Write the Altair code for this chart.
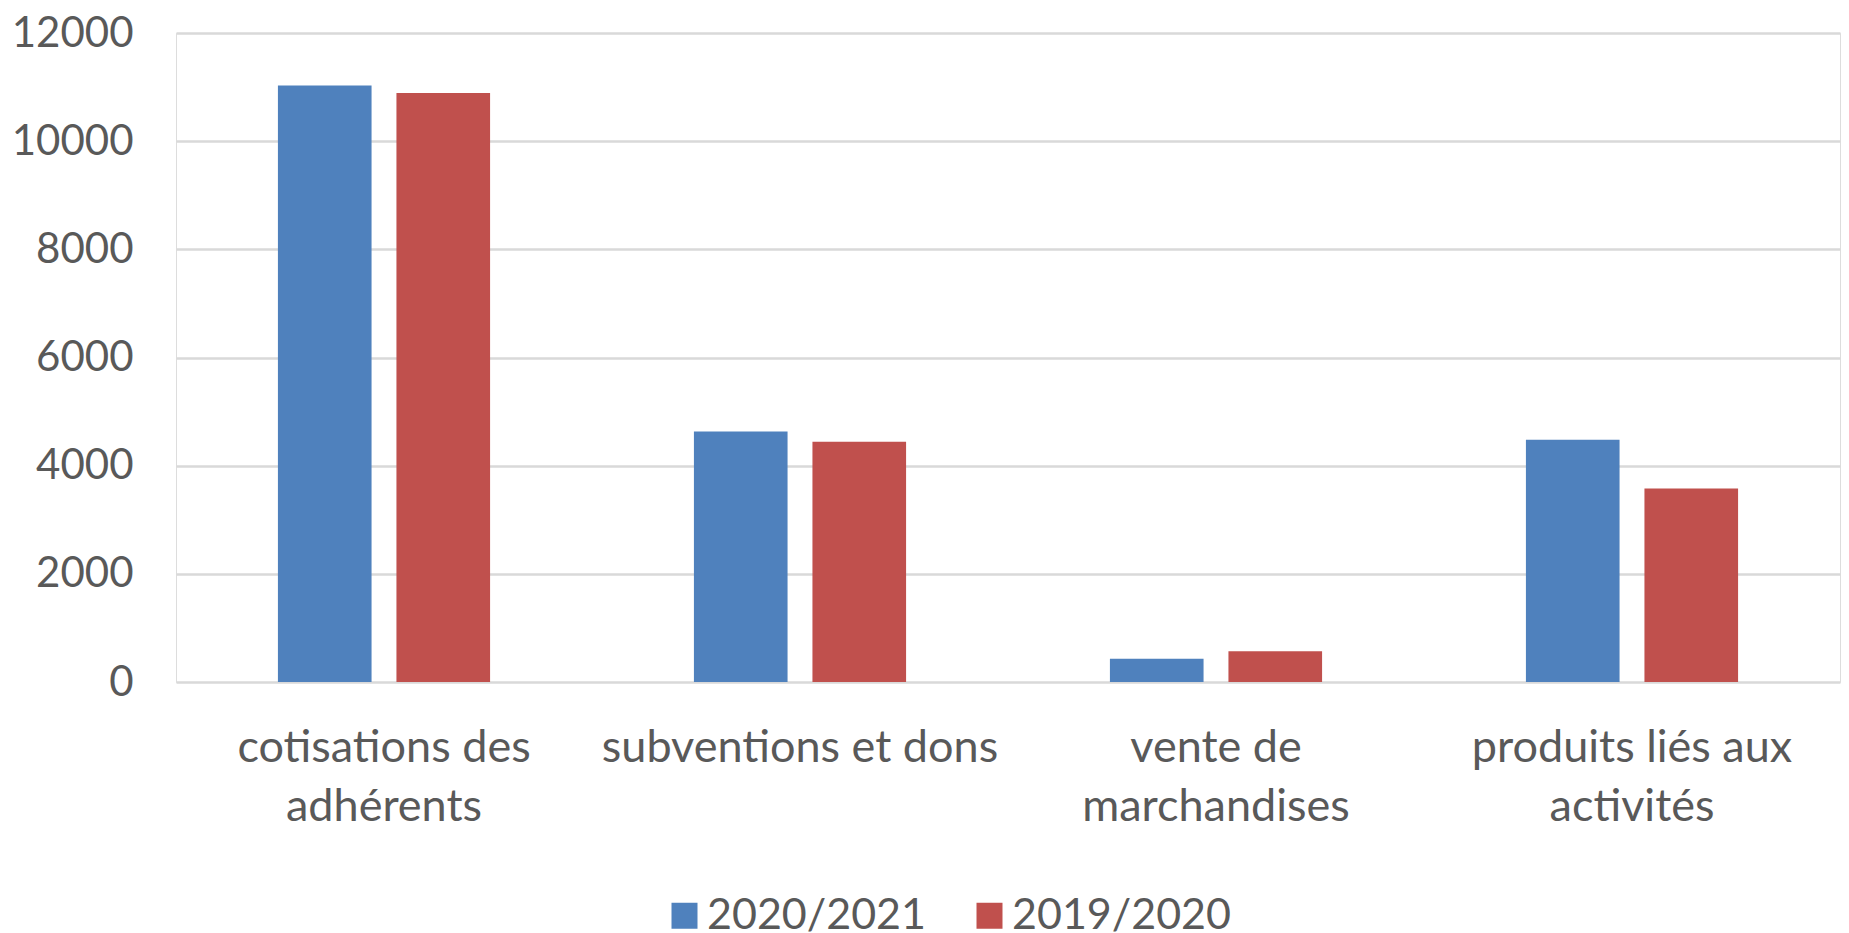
import altair as alt
import pandas as pd

categories = ["cotisations des\nadhérents", "subventions et dons", "vente de\nmarchandises", "produits liés aux\nactivités"]
seasons = ["2020/2021", "2019/2020"]
values_2020_2021 = [11030, 4630, 430, 4480]
values_2019_2020 = [10890, 4440, 570, 3580]
colors = ["#4F81BD", "#C0504D"]
y_ticks = [0, 2000, 4000, 6000, 8000, 10000, 12000]

rows = []
for c, v1, v2 in zip(categories, values_2020_2021, values_2019_2020):
    rows.append({"category": c, "season": seasons[0], "value": v1})
    rows.append({"category": c, "season": seasons[1], "value": v2})
df = pd.DataFrame(rows)

FONT = "Lato"
TEXT = "#595959"

chart = alt.Chart(df).mark_bar().encode(
    x=alt.X(
        "category:N", sort=categories, title=None,
        scale=alt.Scale(paddingInner=0.49, paddingOuter=0.245),
        axis=alt.Axis(
            labelExpr="split(datum.value, '\\n')", labelAngle=0,
            labelFontSize=45, labelFont=FONT, labelColor=TEXT,
            labelLineHeight=59, labelPadding=43, ticks=False, domain=False,
            grid=False, labelLimit=0,
        ),
    ),
    xOffset=alt.XOffset("season:N", sort=seasons,
                        scale=alt.Scale(paddingInner=0.21, paddingOuter=0)),
    y=alt.Y(
        "value:Q", title=None,
        scale=alt.Scale(domain=[0, 12000], nice=False),
        axis=alt.Axis(
            values=y_ticks, format="d", labelFontSize=42, labelFont=FONT,
            labelColor=TEXT, labelPadding=43, ticks=False, domain=False,
            gridColor="#D9D9D9", gridWidth=2.5,
        ),
    ),
    color=alt.Color(
        "season:N", sort=seasons,
        scale=alt.Scale(domain=seasons, range=colors),
        legend=alt.Legend(
            orient="none", legendX=487, legendY=861, direction="horizontal",
            title=None, symbolType="square", symbolSize=676,
            symbolStrokeWidth=0, symbolOpacity=1, labelFontSize=43,
            labelFont=FONT, labelColor=TEXT, labelOffset=1, labelLimit=0,
            columnPadding=42, padding=0,
        ),
    ),
).properties(
    width=1664, height=649,
    autosize=alt.AutoSizeParams(type="none"),
    padding={"left": 168, "top": 25, "right": 1, "bottom": 252},
).configure_view(stroke=None).configure(background="white")

chart.save("out.html", embed_options={"renderer": "svg", "actions": False})
